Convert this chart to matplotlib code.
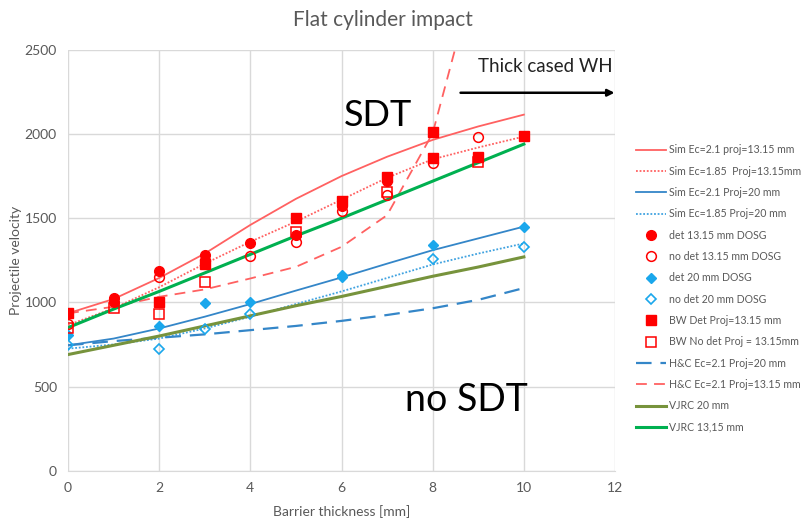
import matplotlib
matplotlib.use("Agg")
import matplotlib.pyplot as plt

plt.rcParams['font.family'] = ['Lato', 'DejaVu Sans']

# ---- data ----
x_sim = [0, 1, 2, 3, 4, 5, 6, 7, 8, 9, 10]
sim21_1315 = [935, 1020, 1145, 1290, 1460, 1615, 1750, 1865, 1965, 2045, 2115]
sim185_1315 = [865, 965, 1090, 1230, 1360, 1480, 1610, 1740, 1850, 1920, 1985]
sim21_20 = [745, 785, 845, 915, 990, 1070, 1148, 1230, 1310, 1380, 1450]
sim185_20 = [725, 750, 785, 845, 915, 990, 1065, 1145, 1225, 1290, 1350]

det1315_x = [1, 1, 2, 3, 3, 4, 5, 6, 7, 8]
det1315_y = [1025, 1005, 1185, 1280, 1250, 1350, 1400, 1575, 1720, 1855]
nodet1315_x = [0, 2, 4, 5, 6, 7, 8, 9]
nodet1315_y = [871, 1148, 1275, 1356, 1540, 1637, 1825, 1980]
det20_x = [0, 2, 3, 4, 6, 6, 8, 10]
det20_y = [806, 859, 994, 1004, 1150, 1160, 1340, 1449]
nodet20_x = [0, 2, 3, 4, 8, 10]
nodet20_y = [746, 723, 842, 929, 1255, 1330]
bwdet_x = [0, 2, 3, 5, 6, 7, 8, 8, 9, 10]
bwdet_y = [935, 1004, 1225, 1499, 1605, 1745, 2009, 1859, 1865, 1988]
bwnodet_x = [0, 1, 2, 3, 5, 7, 9]
bwnodet_y = [846, 968, 929, 1119, 1419, 1657, 1831]

hc20 = [745, 770, 790, 810, 835, 860, 890, 925, 965, 1015, 1085]
x_hc1315 = [0, 1, 2, 3, 4, 5, 6, 7, 8, 9]
hc1315 = [935, 974, 1033, 1077, 1142, 1211, 1330, 1518, 2005, 3020]
vjrc20 = [690, 745, 800, 860, 920, 980, 1035, 1095, 1155, 1210, 1270]
vjrc1315 = [850, 960, 1065, 1175, 1285, 1395, 1500, 1610, 1720, 1830, 1940]

labels = ["Sim Ec=2.1 proj=13.15 mm", "Sim Ec=1.85  Proj=13.15mm",
          "Sim Ec=2.1 Proj=20 mm", "Sim Ec=1.85 Proj=20 mm",
          "det 13.15 mm DOSG", "no det 13.15 mm DOSG",
          "det 20 mm DOSG", "no det 20 mm DOSG",
          "BW Det Proj=13.15 mm", "BW No det Proj = 13.15mm",
          "H&C Ec=2.1 Proj=20 mm", "H&C Ec=2.1 Proj=13.15 mm",
          "VJRC 20 mm", "VJRC 13,15 mm"]

xticks = [0, 2, 4, 6, 8, 10, 12]
yticks = [0, 500, 1000, 1500, 2000, 2500]

# ---- plot ----
fig = plt.figure(figsize=(8.05, 5.19), dpi=100)
ax = fig.add_axes([0.0845, 0.093, 0.6795, 0.811])

red_line = '#FF6161'
red_mk = '#FF0000'
blue_line = '#3486C8'
blue_dot = '#3FA2E0'
blue_mk = '#1AA7EC'
green = '#00B050'
olive = '#77933C'
gray = '#595959'

h = []
h += ax.plot(x_sim, sim21_1315, color=red_line, lw=1.3, label=labels[0])
h += ax.plot(x_sim, sim185_1315, color=red_line, lw=1.3, ls=(0, (1, 1)), label=labels[1])
h += ax.plot(x_sim, sim21_20, color=blue_line, lw=1.3, label=labels[2])
h += ax.plot(x_sim, sim185_20, color=blue_dot, lw=1.3, ls=(0, (1, 1)), label=labels[3])
h += ax.plot(det1315_x, det1315_y, ls='none', marker='o', ms=7, color=red_mk, label=labels[4], zorder=5)
h += ax.plot(nodet1315_x, nodet1315_y, ls='none', marker='o', ms=7, mfc='none', mec=red_mk, mew=1.1, label=labels[5], zorder=5)
h += ax.plot(det20_x, det20_y, ls='none', marker='D', ms=5, color=blue_mk, label=labels[6], zorder=5)
h += ax.plot(nodet20_x, nodet20_y, ls='none', marker='D', ms=5, mfc='none', mec=blue_mk, mew=1.2, label=labels[7], zorder=5)
h += ax.plot(bwdet_x, bwdet_y, ls='none', marker='s', ms=7, color=red_mk, label=labels[8], zorder=5)
h += ax.plot(bwnodet_x, bwnodet_y, ls='none', marker='s', ms=7, mfc='none', mec=red_mk, mew=1.1, label=labels[9], zorder=5)
h += ax.plot(x_sim, hc20, color=blue_line, lw=1.6, ls=(0, (7, 4)), label=labels[10])
h += ax.plot(x_hc1315, hc1315, color=red_line, lw=1.3, ls=(0, (6, 4)), label=labels[11])
h += ax.plot(x_sim, vjrc20, color=olive, lw=2.2, label=labels[12])
h += ax.plot(x_sim, vjrc1315, color=green, lw=2.2, label=labels[13])

ax.set_xlim(0, 12)
ax.set_ylim(0, 2500)
ax.set_xticks(xticks)
ax.set_yticks(yticks)
ax.grid(True, color='#D9D9D9', lw=1)
ax.set_axisbelow(True)
for s in ['top', 'right', 'left']:
    ax.spines[s].set_visible(False)
ax.spines['bottom'].set_color('#D9D9D9')
ax.tick_params(length=0, colors=gray, labelsize=10, pad=8)

ax.set_xlabel('Barrier thickness [mm]', color=gray, fontsize=10, labelpad=8)
ax.set_ylabel('Projectile velocity', color=gray, fontsize=10, labelpad=2)
fig.text(0.476, 0.962, 'Flat cylinder impact', ha='center', va='center', color=gray, fontsize=15)

ax.text(6.8, 2110, 'SDT', ha='center', va='center', fontsize=26, color='black')
ax.text(8.75, 420, 'no SDT', ha='center', va='center', fontsize=27, color='black')
ax.text(11.95, 2400, 'Thick cased WH', ha='right', va='center', fontsize=13.5, color='#222222')
ax.annotate('', xy=(12.05, 2245), xytext=(8.55, 2245),
            arrowprops=dict(arrowstyle='-|>', color='black', lw=1.8, mutation_scale=10),
            annotation_clip=False)

leg = fig.legend(handles=h, loc='upper left', bbox_to_anchor=(0.79, 0.722),
                 frameon=False, fontsize=7.6, handlelength=2.8, handletextpad=0.35,
                 labelspacing=0.98, borderpad=0, borderaxespad=0)
for t in leg.get_texts():
    t.set_color(gray)

fig.savefig('out.png', dpi=100)
